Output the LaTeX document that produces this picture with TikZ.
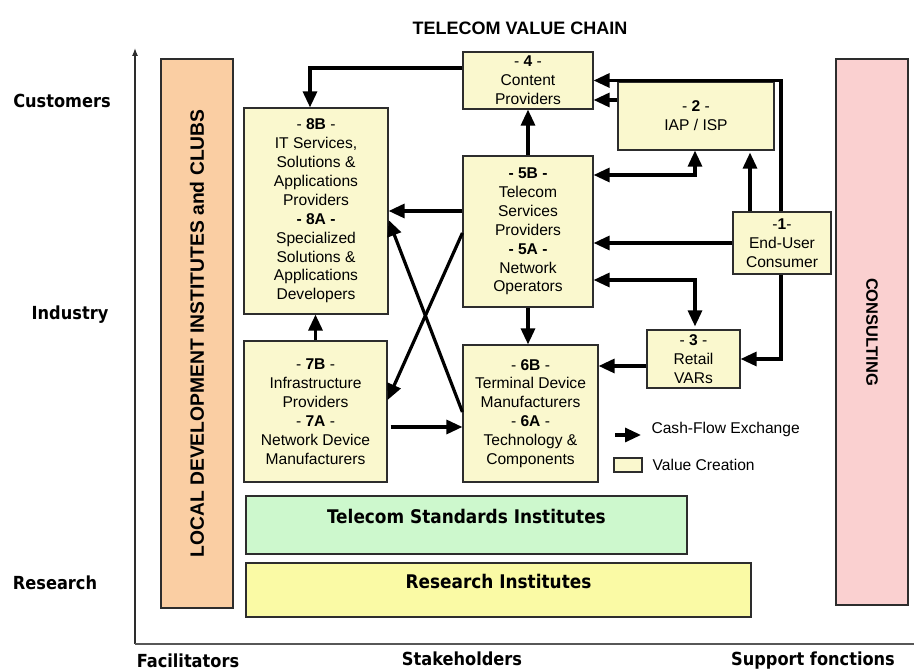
\documentclass[tikz,border=0pt]{standalone}
\usepackage{fontspec}
\setmainfont{Liberation Sans}
\newfontfamily\labelfont{DejaVu Sans Condensed}
\usepackage{tikz}
\usetikzlibrary{positioning,arrows.meta}
\definecolor{valuefill}{RGB}{250,248,206}
\definecolor{localfill}{RGB}{250,206,163}
\definecolor{consultfill}{RGB}{250,208,208}
\definecolor{stdfill}{RGB}{205,248,205}
\definecolor{researchfill}{RGB}{250,250,165}
\definecolor{edgegray}{RGB}{45,45,45}

\begin{document}
\begin{tikzpicture}[
        x=1pt, y=1pt,
        font=\fontsize{15.6}{18.9}\selectfont,
        >={Triangle[length=16pt,width=14pt]},
        actor/.style={draw=edgegray, line width=1.2pt, fill=valuefill, align=center, inner sep=0pt},
        band/.style={draw=edgegray, line width=1.2pt, inner sep=0pt},
        bandtext/.style={font=\labelfont\bfseries\fontsize{18.8}{20}\selectfont},
        axislabel/.style={font=\labelfont\bfseries\fontsize{18}{20}\selectfont},
        flow/.style={draw, line width=3.2pt, ->},
        twoway/.style={draw, line width=3.2pt, <->}
    ]
        \useasboundingbox (0,0) rectangle (914,671);

        % Axes
        \coordinate (origin) at (135,27);
        \coordinate (ytop) at (135,623);
        \coordinate (xend) at (914,27);
        \draw[line width=1.3pt, draw=edgegray, -{Latex[length=8pt,width=6pt]}] (origin) -- (ytop);
        \draw[line width=1.3pt, draw=edgegray!80] (origin) -- (xend);

        % Axis labels
        \node[font=\bfseries\fontsize{18}{20}\selectfont] (title) at (520,643) {TELECOM VALUE CHAIN};
        \node[axislabel] (customers) at (62,570) {Customers};
        \node[axislabel] (industry) at (70,356) {Industry};
        \node[axislabel] (research) at (55,88) {Research};
        \node[axislabel] (facilitators) at (188,10) {Facilitators};
        \node[axislabel] (stakeholders) at (462,12) {Stakeholders};
        \node[axislabel] (support) at (813,10) {Support fonctions};

        % Side bars
        \node[band, fill=localfill, rotate=90, minimum width=549pt, minimum height=72pt,
              font=\bfseries\fontsize{19.3}{20}\selectfont] (local) at (197,337.5)
              {LOCAL DEVELOPMENT INSTITUTES and CLUBS};
        \node[band, fill=consultfill, rotate=-90, minimum width=546pt, minimum height=72pt,
              font=\bfseries\fontsize{16.5}{20}\selectfont] (consult) at (872,339) {\textbf{CONSULTING}};

        % Bottom bands
        \node[band, bandtext, fill=stdfill, minimum width=441pt, minimum height=58pt,
              text height=12pt, text depth=14pt] (std) at (466.5,146) {Telecom Standards Institutes};
        \node[band, bandtext, fill=researchfill, minimum width=505pt, minimum height=54pt,
              text height=12pt, text depth=14pt] (lab) at (498.5,81) {Research Institutes};

        % Value chain actors
        \node[actor, minimum width=130pt, minimum height=57pt] (n4) at (528,590.5)
            {- \textbf{4} -\\Content\\Providers};
        \node[actor, minimum width=156pt, minimum height=68pt] (n2) at (696,555)
            {- \textbf{2} -\\IAP / ISP};
        \node[actor, minimum width=144pt, minimum height=206pt] (n8) at (316,460)
            {- \textbf{8B} -\\IT Services,\\Solutions \&\\Applications\\Providers\\\textbf{- 8A -}\\Specialized\\Solutions \&\\Applications\\Developers};
        \node[actor, minimum width=130pt, minimum height=151pt] (n5) at (528,439.5)
            {\textbf{- 5B -}\\Telecom\\Services\\Providers\\\textbf{- 5A -}\\Network\\Operators};
        \node[actor, minimum width=98pt, minimum height=62pt] (n1) at (782,428)
            {-\textbf{1}-\\End-User\\Consumer};
        \node[actor, minimum width=143pt, minimum height=141pt] (n7) at (315.5,259.5)
            {- \textbf{7B} -\\Infrastructure\\Providers\\- \textbf{7A} -\\Network Device\\Manufacturers};
        \node[actor, minimum width=135pt, minimum height=137pt] (n6) at (530.5,257.5)
            {- \textbf{6B} -\\Terminal Device\\Manufacturers\\- \textbf{6A} -\\Technology \&\\Components};
        \node[actor, minimum width=93pt, minimum height=58pt] (n3) at (693.5,312)
            {- \textbf{3} -\\Retail\\VARs};

        % Cash flows
        \draw[flow] ([yshift=12.5pt]n4.west) -| ([xshift=-6pt]n8.north);
        \draw[flow] (n5.north) -- (n4.south);
        \draw[flow] ([xshift=-1pt]n1.north) |- (n4.east);
        \draw[flow] ([yshift=16pt]n2.west) -- ([yshift=-19.5pt]n4.east);
        \draw[twoway] ([yshift=56.5pt]n5.east) -| ([xshift=-1pt]n2.south);
        \draw[flow, shorten >=2pt] ([xshift=-32pt]n1.north) -- ([xshift=54pt]n2.south);
        \draw[flow] (n1.west) -- ([yshift=-11.5pt]n5.east);
        \draw[twoway, shorten >=3pt] ([yshift=-48.5pt]n5.east) -| ([xshift=1.5pt]n3.north);
        \draw[flow] ([xshift=-1pt]n1.south) |- (n3.east);
        \draw[flow] ([yshift=-7pt]n3.west) -- ([yshift=47.5pt]n6.east);
        \draw[flow] (n5.south) -- (n5.south |- n6.north);
        \draw[flow] (n7.north) -- (n7.north |- n8.south);
        \draw[flow, shorten <=3pt] ([yshift=-15.5pt]n7.east) -- ([yshift=-13.5pt]n6.west);
        \draw[flow] ([yshift=20.5pt]n5.west) -- (n8.east);
        \draw[flow] ([yshift=-1.5pt]n5.west) -- ([yshift=11.5pt]n7.east);
        \draw[flow] ([yshift=1.5pt]n6.west) -- ([yshift=-9pt]n8.east);

        % Legend
        \coordinate (cashtail) at (615,236);
        \coordinate (cashhead) at (641,236);
        \draw[flow] (cashtail) -- (cashhead);
        \node[anchor=west] (cashtext) at (648,242) {Cash-Flow Exchange};
        \node[actor, minimum width=28pt, minimum height=14pt] (valuekey) at (628,206) {};
        \node[right=6.5pt of valuekey] (valuetext) {Value Creation};
    \end{tikzpicture}
\end{document}
